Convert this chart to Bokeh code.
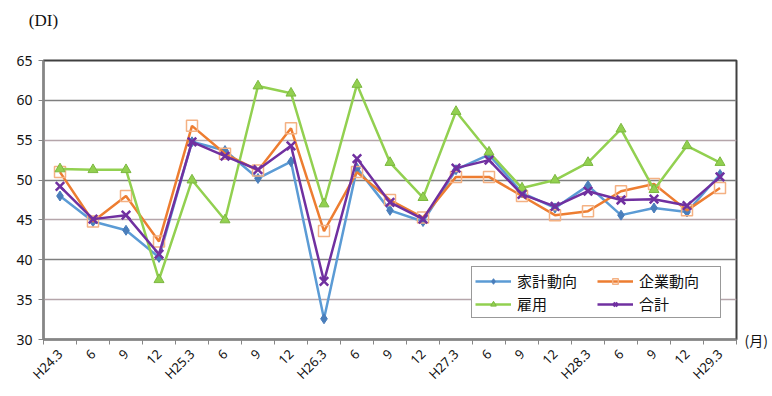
from bokeh.plotting import figure
from bokeh.models import FixedTicker, Grid, Legend, LegendItem, LinearAxis
from bokeh.embed import file_html
from bokeh.resources import INLINE
from math import pi

categories = ["H24.3", "6", "9", "12", "H25.3", "6", "9", "12", "H26.3", "6", "9", "12",
              "H27.3", "6", "9", "12", "H28.3", "6", "9", "12", "H29.3"]
household = [48.0, 44.8, 43.7, 40.3, 54.8, 53.7, 50.2, 52.3, 32.6, 51.5, 46.2, 44.8,
             51.3, 53.2, 48.4, 46.5, 49.3, 45.6, 46.5, 46.0, 50.7]
corporate = [51.0, 44.8, 48.0, 42.3, 56.8, 53.3, 51.2, 56.5, 43.6, 51.0, 47.5, 45.3,
             50.4, 50.4, 48.0, 45.6, 46.1, 48.6, 49.5, 46.2, 49.0]
employment = [51.4, 51.3, 51.3, 37.5, 50.0, 45.0, 61.8, 60.9, 47.0, 62.0, 52.2, 47.8,
              58.6, 53.5, 49.0, 50.0, 52.2, 56.4, 48.8, 54.3, 52.2]
total = [49.2, 45.1, 45.6, 40.7, 54.8, 53.0, 51.3, 54.3, 37.3, 52.7, 47.2, 45.1,
         51.5, 52.5, 48.2, 46.7, 48.6, 47.5, 47.6, 46.8, 50.4]
series_names = ["家計動向", "企業動向", "雇用", "合計"]
y_ticks = [30, 35, 40, 45, 50, 55, 60, 65]
y_unit = "(DI)"
x_unit = "(月)"

xs = list(range(len(categories)))
x_start = -0.5

p = figure(width=770, height=394, output_backend="svg", toolbar_location=None,
           x_range=(x_start, len(categories) - 0.5), y_range=(30, 65),
           min_border_left=43, min_border_right=27, min_border_top=60, min_border_bottom=55)
p.background_fill_color = "white"
p.border_fill_color = "white"
p.outline_line_color = "#404040"
p.outline_line_width = 2

# grids
p.xgrid.visible = False
p.ygrid.visible = False
p.add_layout(Grid(dimension=1, ticker=FixedTicker(ticks=[40, 50, 60]),
                  grid_line_color="#7f7f7f", grid_line_width=1.5))
p.add_layout(Grid(dimension=1, ticker=FixedTicker(ticks=[35, 45, 55]),
                  grid_line_color="#b5a5aa", grid_line_width=1.5))

# axes
p.xaxis.ticker = FixedTicker(ticks=xs, minor_ticks=[i - 0.5 for i in range(len(categories) + 1)])
p.xaxis.major_label_overrides = {i: c for i, c in enumerate(categories)}
p.xaxis.major_label_orientation = pi / 4
p.xaxis.major_tick_out = 0
p.xaxis.major_tick_in = 0
p.xaxis.minor_tick_out = 5
p.xaxis.minor_tick_in = 0
p.xaxis.minor_tick_line_color = "#868686"
p.xaxis.major_label_standoff = 7
p.yaxis.ticker = FixedTicker(ticks=y_ticks)
p.yaxis.major_tick_out = 5
p.yaxis.major_tick_in = 0
p.yaxis.minor_tick_line_color = None
p.yaxis.major_label_standoff = 6
for ax in (p.xaxis, p.yaxis):
    ax.axis_line_color = "#868686"
    ax.axis_line_width = 2
    ax.major_tick_line_color = "#868686"
    ax.major_label_text_font = "Noto Sans"
    ax.major_label_text_font_size = "14px"
    ax.major_label_text_color = "#111111"
p.xaxis.major_label_text_font_size = "13px"

# unit label for the y axis, shown on an axis above at the frame's left edge
di_axis = LinearAxis(ticker=FixedTicker(ticks=[x_start]),
                     major_label_overrides={x_start: y_unit},
                     axis_line_color=None, major_tick_line_color=None,
                     minor_tick_line_color=None, major_label_standoff=25,
                     major_label_text_align="right",
                     major_label_text_font="Liberation Serif",
                     major_label_text_font_size="17px",
                     major_label_text_color="#111111")
p.add_layout(di_axis, "above")

# unit label for the x axis, shown on a right-hand axis at the bottom value
unit_axis = LinearAxis(ticker=FixedTicker(ticks=[y_ticks[0]]),
                       major_label_overrides={y_ticks[0]: x_unit},
                       axis_line_color=None, major_tick_line_color=None,
                       minor_tick_line_color=None, major_label_standoff=2,
                       major_label_text_font="Noto Sans CJK JP",
                       major_label_text_font_size="14px",
                       major_label_text_color="#111111",
                       major_label_text_baseline="top")
p.add_layout(unit_axis, "right")

# series
r1l = p.line(xs, household, line_color="#5b9bd5", line_width=2.5)
r1m = p.scatter(xs, household, marker="diamond", size=10, fill_color="#4a7ebb", line_color="#4a7ebb")
r2l = p.line(xs, corporate, line_color="#ed7d31", line_width=2.5)
r2m = p.scatter(xs, corporate, marker="square", size=11, fill_color=None, line_color="#f4b183", line_width=1.5)
r3l = p.line(xs, employment, line_color="#92d050", line_width=2.5)
r3m = p.scatter(xs, employment, marker="triangle", size=10, fill_color="#92d050", line_color="#7cb840")
r4l = p.line(xs, total, line_color="#7030a0", line_width=2.5)
r4m = p.scatter(xs, total, marker="x", size=12, line_color="#7030a0", line_width=2.5)

legend = Legend(items=[
    LegendItem(label=series_names[0], renderers=[r1l, r1m]),
    LegendItem(label=series_names[1], renderers=[r2l, r2m]),
    LegendItem(label=series_names[2], renderers=[r3l, r3m]),
    LegendItem(label=series_names[3], renderers=[r4l, r4m]),
], location=(428, 21), ncols=2, orientation="horizontal")
legend.margin = 0
legend.padding = 3
legend.spacing = 2
legend.glyph_width = 36
legend.glyph_height = 14
legend.label_width = 78
legend.label_height = 14
legend.label_standoff = 6
legend.label_text_font = "Noto Sans CJK JP"
legend.label_text_font_size = "15px"
legend.label_text_color = "#111111"
legend.border_line_color = "#333333"
legend.border_line_width = 1.5
legend.background_fill_color = "white"
legend.background_fill_alpha = 1
p.add_layout(legend)

open("out.html", "w").write(file_html(p, INLINE))
